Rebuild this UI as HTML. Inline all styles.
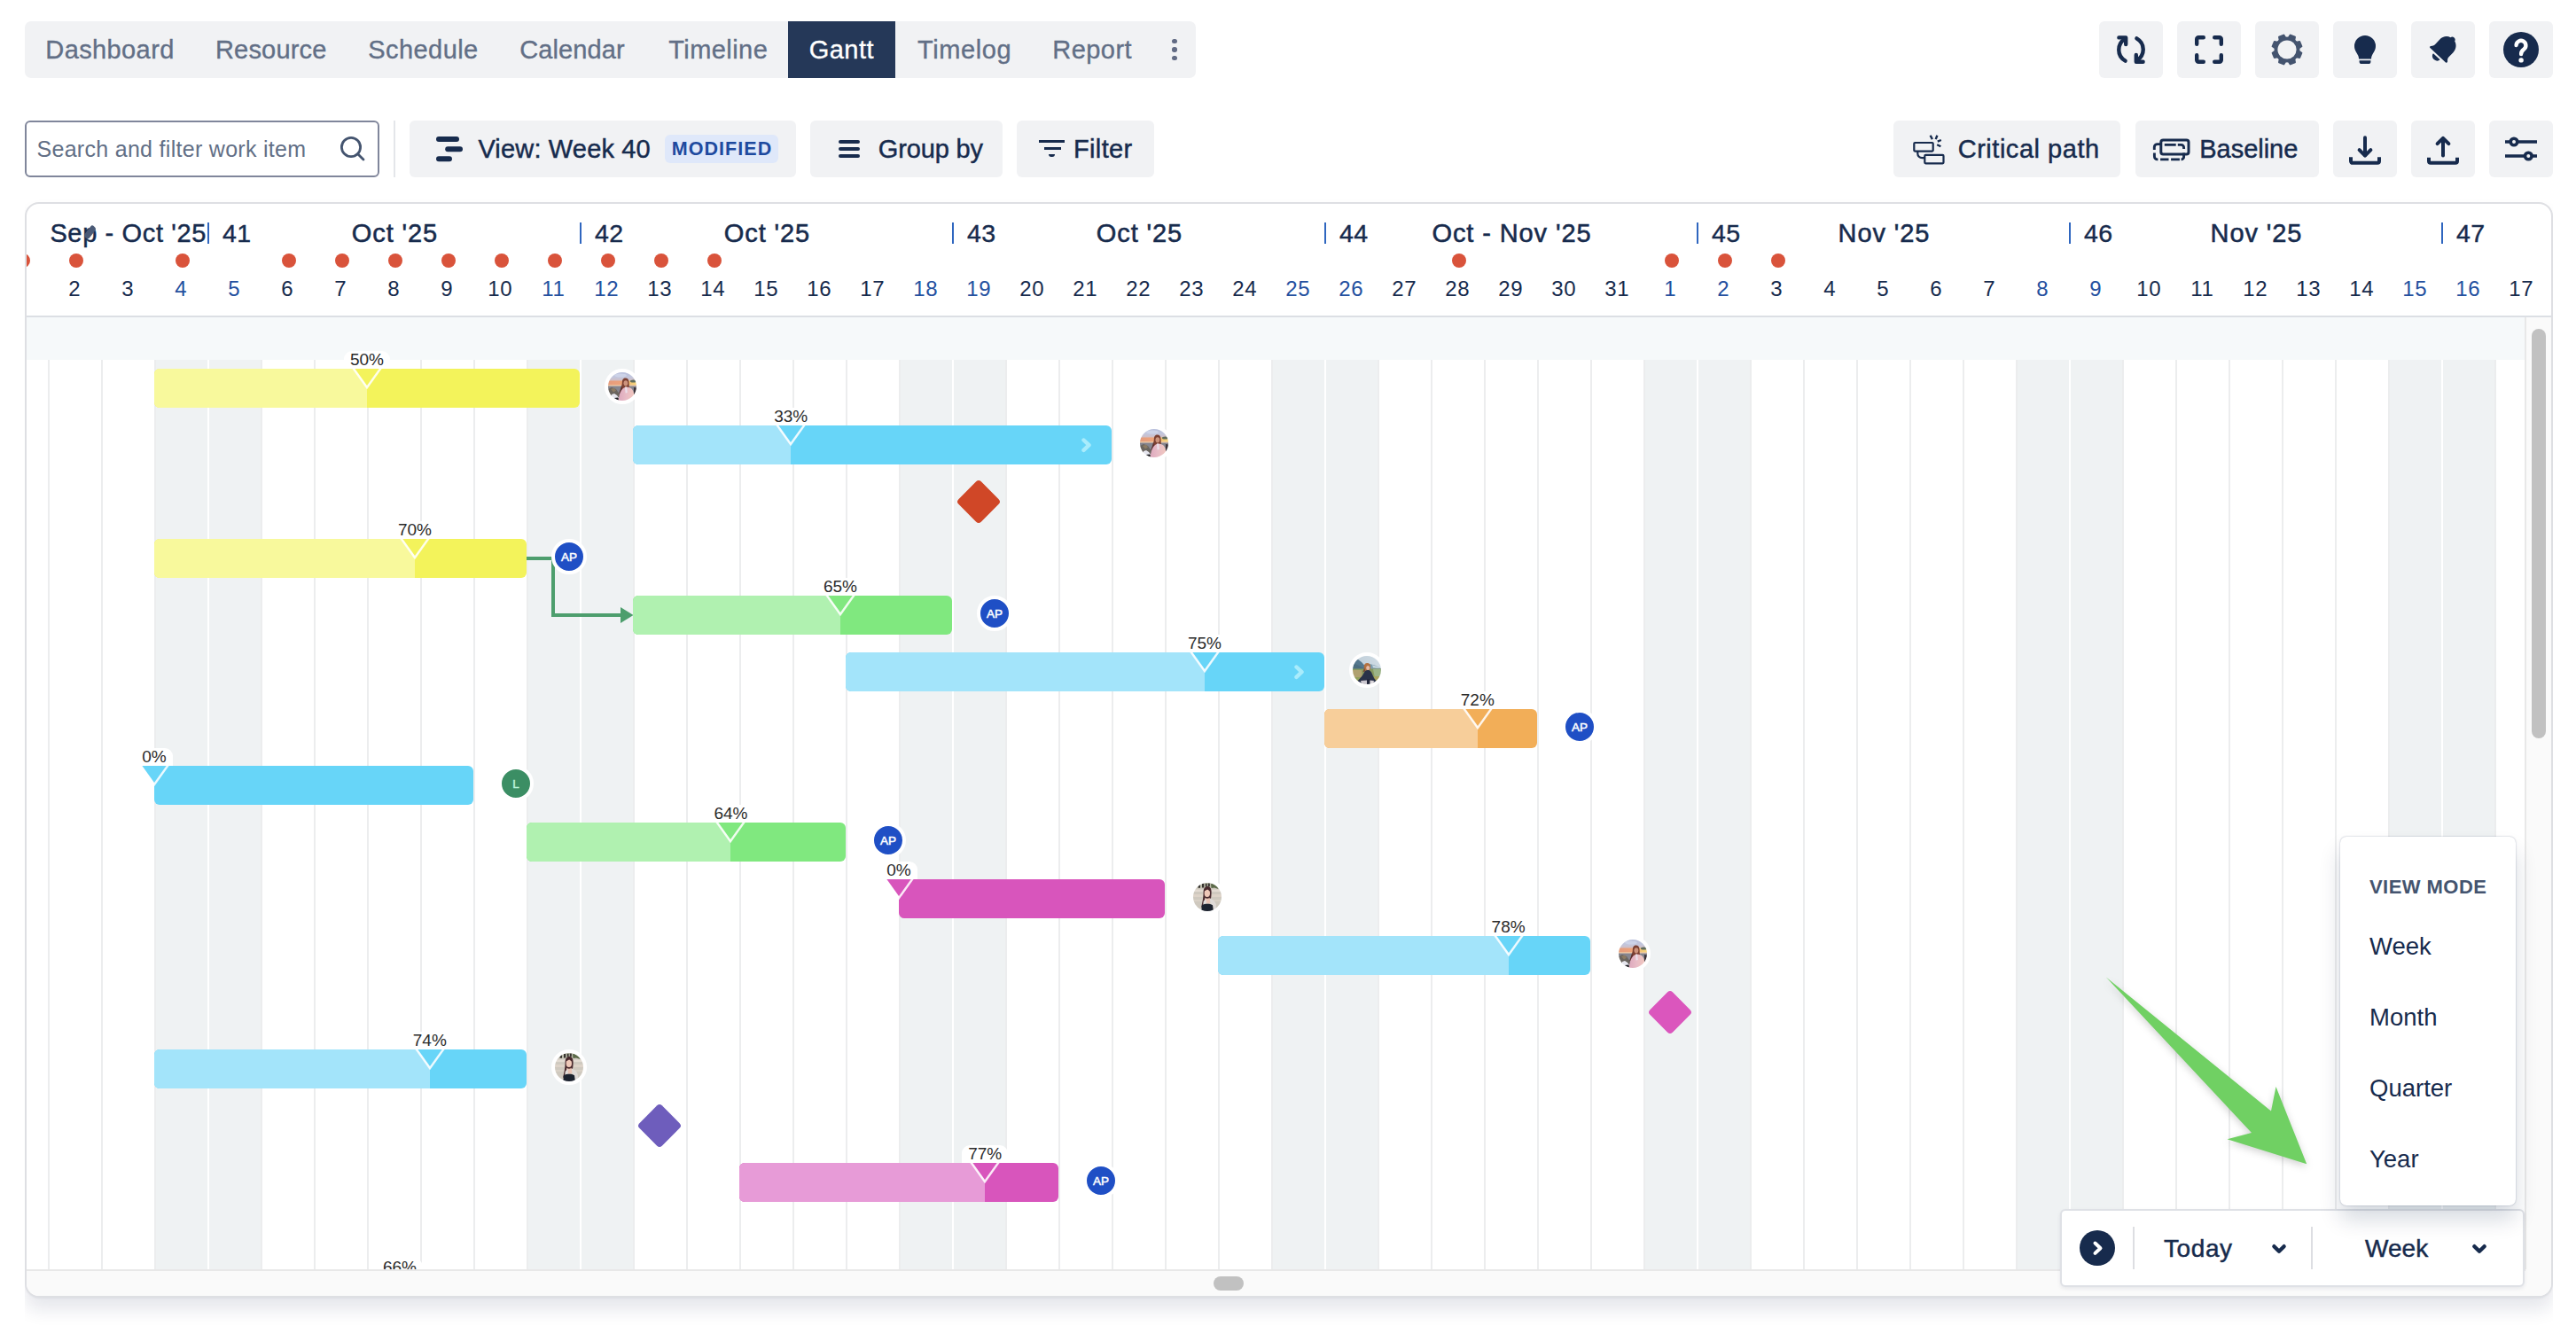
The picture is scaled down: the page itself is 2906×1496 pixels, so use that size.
<!DOCTYPE html>
<html lang="en"><head><meta charset="utf-8"><title>Gantt</title>
<style>
*{box-sizing:border-box;margin:0;padding:0}
html,body{width:2906px;height:1496px;background:#fff;overflow:hidden}
body{position:relative;font-family:"Liberation Sans",sans-serif;color:#172B4D;font-size:28px}
.a{position:absolute}
.t{position:absolute;white-space:nowrap;line-height:1}
.m{-webkit-text-stroke:0.45px currentColor}
.btn{position:absolute;background:#F1F2F4;border-radius:6px}
.tab{position:absolute;top:16px;height:32px;line-height:32px;color:#626F86;font-size:29px;white-space:nowrap;-webkit-text-stroke:0.35px currentColor}
.day{position:absolute;top:313px;width:60px;text-align:center;font-size:24px;line-height:26px;color:#172B4D;white-space:nowrap;letter-spacing:0.6px;text-indent:0.6px}
.we{color:#24509F}
.dot{position:absolute;top:286px;width:16px;height:16px;border-radius:50%;background:#D9533B}
.wk{position:absolute;top:251px;height:24px;width:2px;background:#2F66BF}
.wkn{position:absolute;top:247px;font-size:28.500px;line-height:32px;white-space:nowrap;letter-spacing:0.3px;-webkit-text-stroke:0.4px currentColor}
.mon{position:absolute;top:247px;width:420px;text-align:center;font-size:29px;line-height:32px;white-space:nowrap;letter-spacing:0.9px;text-indent:0.9px;-webkit-text-stroke:0.55px currentColor}
.gl{position:absolute;top:406px;width:2px;height:1026px;background:#ECEDEE}
.glw{background:#fff}
.wkd{position:absolute;top:406px;width:120px;height:1026px;background:#EFF2F3}
.bar{position:absolute;height:44px;border-radius:6px;overflow:hidden}
.bar i{position:absolute;left:0;top:0;bottom:0;display:block}
.pl{position:absolute;height:20px;border-radius:9px 9px 0 0;background:#fff;font-size:19px;line-height:20px;text-align:center;color:#2b2b2b;overflow:hidden;white-space:nowrap}
.av{position:absolute;width:40px;height:40px;border-radius:50%;border:4px solid #fff;background:#fff;overflow:hidden}
.avt{position:absolute;width:40px;height:40px;border-radius:50%;border:4px solid #fff;color:#fff;font-size:13.5px;line-height:33px;text-align:center;-webkit-text-stroke:0.5px #fff}
.ms{position:absolute;width:36px;height:36px;border-radius:4px;transform:rotate(45deg)}
.mi{position:absolute;left:33px;font-size:27.5px;line-height:32px;white-space:nowrap}
</style></head>
<body>
<div class="a" style="left:28px;top:24px;width:1321px;height:64px;background:#F1F2F4;border-radius:7px;overflow:hidden">
<div class="a" style="left:861px;top:0;width:121px;height:64px;background:#253858"></div>
<div class="tab" id="tab-Dashboard" style="left:23.30px;letter-spacing:0.395px;">Dashboard</div>
<div class="tab" id="tab-Resource" style="left:215.00px;letter-spacing:0.174px;">Resource</div>
<div class="tab" id="tab-Schedule" style="left:387.30px;letter-spacing:0.429px;">Schedule</div>
<div class="tab" id="tab-Calendar" style="left:558.20px;letter-spacing:0.125px;">Calendar</div>
<div class="tab" id="tab-Timeline" style="left:726.20px;letter-spacing:0.446px;">Timeline</div>
<div class="tab" id="tab-Gantt" style="left:884.80px;letter-spacing:0.432px;color:#fff;">Gantt</div>
<div class="tab" id="tab-Timelog" style="left:1007.00px;letter-spacing:0.577px;">Timelog</div>
<div class="tab" id="tab-Report" style="left:1159.30px;letter-spacing:0.443px;">Report</div>
<div class="a" style="left:1294.3px;top:19.9px;width:5.4px;height:5.4px;border-radius:50%;background:#626B84"></div>
<div class="a" style="left:1294.3px;top:29.3px;width:5.4px;height:5.4px;border-radius:50%;background:#626B84"></div>
<div class="a" style="left:1294.3px;top:38.7px;width:5.4px;height:5.4px;border-radius:50%;background:#626B84"></div>
</div>
<div class="btn" style="left:2368px;top:24px;width:72px;height:64px"></div>
<div class="btn" style="left:2456px;top:24px;width:72px;height:64px"></div>
<div class="btn" style="left:2544px;top:24px;width:72px;height:64px"></div>
<div class="btn" style="left:2632px;top:24px;width:72px;height:64px"></div>
<div class="btn" style="left:2720px;top:24px;width:72px;height:64px"></div>
<div class="btn" style="left:2808px;top:24px;width:72px;height:64px"></div>
<svg class="a" style="left:2388px;top:40px" width="32" height="32" viewBox="0 0 32 32" fill="none" stroke="#172B4D" stroke-width="4.4" stroke-linecap="round" stroke-linejoin="round">
<path d="M2.4 2.4H10.2V10"/><path d="M9.6 3.6C-0.2 9.5-0.2 23 9.6 28.6"/>
<path d="M29.6 29.8H21.8V22"/><path d="M22.4 28.4C32.2 22.5 32.2 9 22.4 3.4"/>
</svg>
<svg class="a" style="left:2476px;top:40px" width="32" height="32" viewBox="0 0 32 32" fill="none" stroke="#172B4D" stroke-width="4.4" stroke-linecap="round" stroke-linejoin="round">
<path d="M2.2 9.8V4.2a2 2 0 0 1 2-2H9.8"/><path d="M22.200 2.200h5.600a2 2 0 0 1 2 2V9.800"/>
<path d="M29.800 22.200v5.600a2 2 0 0 1-2 2H22.200"/><path d="M9.800 29.800H4.200a2 2 0 0 1-2-2V22.200"/>
</svg>
<svg class="a" style="left:2560px;top:36px" width="40" height="40" viewBox="0 0 40 40">
<path d="M21.64 6.70 L23.71 3.61 L28.96 5.79 L28.24 9.44 L30.56 11.76 L34.21 11.04 L36.39 16.29 L33.30 18.36 L33.30 21.64 L36.39 23.71 L34.21 28.96 L30.56 28.24 L28.24 30.56 L28.96 34.21 L23.71 36.39 L21.64 33.30 L18.36 33.30 L16.29 36.39 L11.04 34.21 L11.76 30.56 L9.44 28.24 L5.79 28.96 L3.61 23.71 L6.70 21.64 L6.70 18.36 L3.61 16.29 L5.79 11.04 L9.44 11.76 L11.76 9.44 L11.04 5.79 L16.29 3.61 L18.36 6.70Z" fill="#44546F" stroke="#44546F" stroke-width="2" stroke-linejoin="round"/>
<circle cx="20" cy="20" r="14.200" fill="#44546F"/><circle cx="20" cy="20" r="10.600" fill="#F1F2F4"/>
</svg>
<svg class="a" style="left:2648px;top:36px" width="40" height="40" viewBox="0 0 40 40" fill="#172B4D">
<path d="M20 4a12 12 0 0 0-12 12c0 4.6 2.6 7.4 4 10.2c.7 1.4 1 2.6 1 4.2h14c0-1.600 .3-2.800 1-4.200c1.400-2.800 4-5.600 4-10.200a12 12 0 0 0-12-12z"/>
<path d="M13.600 32.300h12.800v1.200a2.600 2.600 0 0 1-2.600 2.600h-7.600a2.600 2.600 0 0 1-2.600-2.600z"/>
</svg>
<svg class="a" style="left:2736px;top:36px" width="40" height="40" viewBox="0 0 40 40" fill="#172B4D">
<g transform="rotate(43 20 20)">
<path d="M20 1.500c1.700 0 3 1.100 3.200 2.600c4.600 1.400 7.300 5.400 7.300 10.400v7.500c0 1.800 .9 3 2.300 4.300c.9 .8 .4 2.200-.8 2.200H8c-1.200 0-1.700-1.400-.8-2.200c1.400-1.300 2.300-2.500 2.300-4.300v-7.500c0-5 2.700-9 7.300-10.400c.2-1.500 1.500-2.600 3.200-2.600z"/>
<path d="M14.800 30.600h10.400a5.200 4.600 0 0 1-10.400 0z"/>
</g></svg>
<svg class="a" style="left:2822px;top:34px" width="44" height="44" viewBox="0 0 44 44">
<circle cx="22" cy="22" r="20" fill="#172B4D"/>
<path d="M16.600 17a5.400 5.400 0 1 1 8.600 4.600c-1.900 1.300-3.100 2.400-3.100 5.400" fill="none" stroke="#fff" stroke-width="4.400" stroke-linecap="round"/>
<circle cx="22.100" cy="33.900" r="2.700" fill="#fff"/>
</svg>
<div class="a" style="left:28px;top:136px;width:400px;height:64px;border:2px solid #80869B;border-radius:6px;background:#fff"></div>
<div class="t" id="t-search" style="left:41.5px;top:152px;font-size:25px;line-height:32px;color:#626F86;letter-spacing:0.295px">Search and filter work item</div>
<svg class="a" style="left:380px;top:150px" width="36" height="36" viewBox="0 0 36 36" fill="none" stroke="#44546F" stroke-width="2.800" stroke-linecap="round">
<circle cx="16" cy="16" r="10.600"/><path d="M23.700 23.700L30 30"/></svg>
<div class="a" style="left:444px;top:136px;width:2px;height:64px;background:#E4E6EA"></div>
<div class="btn" style="left:462px;top:136px;width:436px;height:64px"></div>
<svg class="a" style="left:490px;top:152px" width="34" height="32" viewBox="0 0 34 32" fill="#172B4D">
<rect x="2" y="2" width="26" height="6" rx="3"/><rect x="12.200" y="13.200" width="19.800" height="6" rx="3"/><rect x="2" y="24.200" width="18" height="6" rx="3"/></svg>
<div class="t m" id="t-view" style="left:539.4px;top:152px;font-size:29px;line-height:32px;letter-spacing:0.164px">View: Week 40</div>
<div class="a" style="left:750px;top:152px;width:128px;height:32px;border-radius:6px;background:#DFE8FA"></div>
<div class="t" id="t-mod" style="left:750px;top:152px;width:128px;text-align:center;font-size:21.500px;line-height:32px;font-weight:bold;color:#1E4A9F;letter-spacing:1.050px;text-indent:1.050px">MODIFIED</div>
<div class="btn" style="left:914px;top:136px;width:217px;height:64px"></div>
<div class="a" style="left:946px;top:158px;width:24px;height:4px;border-radius:2px;background:#172B4D"></div>
<div class="a" style="left:946px;top:166px;width:24px;height:4px;border-radius:2px;background:#172B4D"></div>
<div class="a" style="left:946px;top:174px;width:24px;height:4px;border-radius:2px;background:#172B4D"></div>
<div class="t m" id="t-group" style="left:990.8px;top:152px;font-size:29px;line-height:32px;letter-spacing:-0.155px">Group by</div>
<div class="btn" style="left:1147px;top:136px;width:155px;height:64px"></div>
<div class="a" style="left:1172px;top:158px;width:29px;height:3px;background:#172B4D"></div>
<div class="a" style="left:1178px;top:166px;width:19px;height:3px;background:#172B4D"></div>
<div class="a" style="left:1183px;top:174px;width:7px;height:3px;border-radius:0 0 3px 3px;background:#172B4D"></div>
<div class="t m" id="t-filter" style="left:1211.0px;top:152px;font-size:29px;line-height:32px;letter-spacing:0.343px">Filter</div>
<div class="btn" style="left:2136px;top:136px;width:256px;height:64px"></div>
<svg class="a" style="left:2154px;top:148px" width="44" height="42" viewBox="0 0 44 42" fill="none" stroke="#172B4D" stroke-width="2.200" stroke-linecap="round" stroke-linejoin="round">
<rect x="5.300" y="13" width="21.400" height="9.600" rx="1"/><rect x="17.300" y="26.900" width="21.200" height="9.400" rx="1"/>
<path d="M9.300 23.700v1.500a5 5 0 0 0 5 5h2"/>
<path d="M23.600 4.700L25.900 9.100M31.400 4.700L29.700 9.100M35.800 10L31.800 11.600M31.200 15.200L35.400 17.300" stroke-width="2.400" stroke-linecap="butt"/></svg>
<div class="t m" id="t-crit" style="left:2208.7px;top:152px;font-size:29px;line-height:32px;letter-spacing:0.526px">Critical path</div>
<div class="btn" style="left:2409px;top:136px;width:207px;height:64px"></div>
<svg class="a" style="left:2426px;top:152px" width="48" height="34" viewBox="0 0 48 34" fill="none" stroke="#172B4D" stroke-linecap="round" stroke-linejoin="round">
<path d="M15.800 11.400H28.700M30.800 11.400H34.600a3 3 0 0 1 3 3V16.100M11.400 10.600H7.800a3.500 3.500 0 0 0-3.500 3.500V17M4.400 20.400V24.400a3.500 3.500 0 0 0 3.500 3.500H8.400M11.100 27.900H20.500M23.100 27.900H32.900M34.600 27.900a3 3 0 0 0 3-3V20.400" stroke-width="2.900" stroke-linecap="butt"/>
<rect x="11.800" y="6.100" width="31.200" height="15.800" rx="2.500" stroke-width="3"/>
</svg>
<div class="t m" id="t-base" style="left:2481.3px;top:152px;font-size:29px;line-height:32px;letter-spacing:-0.03px">Baseline</div>
<div class="btn" style="left:2632px;top:136px;width:72px;height:64px"></div>
<div class="btn" style="left:2720px;top:136px;width:72px;height:64px"></div>
<div class="btn" style="left:2808px;top:136px;width:72px;height:64px"></div>
<svg class="a" style="left:2648px;top:150px" width="40" height="40" viewBox="0 0 40 40" fill="none" stroke="#172B4D" stroke-width="4" stroke-linecap="round" stroke-linejoin="round">
<path d="M4 27.200v4.600a2 2 0 0 0 2 2h28a2 2 0 0 0 2-2v-4.600" stroke-linecap="butt"/><path d="M20 5.200V25"/><path d="M13.600 19.200L20 25.600L26.400 19.200"/></svg>
<svg class="a" style="left:2736px;top:150px" width="40" height="40" viewBox="0 0 40 40" fill="none" stroke="#172B4D" stroke-width="4" stroke-linecap="round" stroke-linejoin="round">
<path d="M4 27.800v4a2 2 0 0 0 2 2h28a2 2 0 0 0 2-2v-4" stroke-linecap="butt"/><path d="M20 25.400V6.500"/><path d="M13.600 12.200L20 5.800L26.400 12.200"/></svg>
<svg class="a" style="left:2824px;top:148px" width="40" height="40" viewBox="0 0 40 40" fill="none" stroke="#172B4D" stroke-width="3.600">
<path d="M2 12h36M2 28h36"/><circle cx="12" cy="12" r="3.800" fill="#F1F2F4"/><circle cx="28.300" cy="28" r="3.800" fill="#F1F2F4"/></svg>
<div class="a" style="left:28px;top:200px;width:2852px;height:1296px;overflow:hidden">
<div class="a" style="left:0;top:28px;width:2852px;height:1236px;border:2px solid #DEDFE3;border-radius:16px;background:#fff;box-shadow:0 14px 20px rgba(15,30,75,0.105),0 1px 2px rgba(9,30,66,0.05)"></div>
</div>
<div class="a" style="left:30px;top:230px;width:2848px;height:1232px;border-radius:14px;overflow:hidden">
<div class="a" id="gc" style="left:-30px;top:-230px;width:2906px;height:1496px">
<div class="a" style="left:30px;top:356px;width:2848px;height:2px;background:#DCDFE4"></div>
<div class="a" style="left:30px;top:358px;width:2818px;height:48px;background:#F6F9FA"></div>
<div class="wkd" style="left:174px"></div>
<div class="wkd" style="left:594px"></div>
<div class="wkd" style="left:1014px"></div>
<div class="wkd" style="left:1434px"></div>
<div class="wkd" style="left:1854px"></div>
<div class="wkd" style="left:2274px"></div>
<div class="wkd" style="left:2694px"></div>
<div class="gl" style="left:54px"></div>
<div class="gl" style="left:114px"></div>
<div class="gl" style="left:174px"></div>
<div class="gl glw" style="left:234px"></div>
<div class="gl" style="left:294px"></div>
<div class="gl" style="left:354px"></div>
<div class="gl" style="left:414px"></div>
<div class="gl" style="left:474px"></div>
<div class="gl" style="left:534px"></div>
<div class="gl" style="left:594px"></div>
<div class="gl glw" style="left:654px"></div>
<div class="gl" style="left:714px"></div>
<div class="gl" style="left:774px"></div>
<div class="gl" style="left:834px"></div>
<div class="gl" style="left:894px"></div>
<div class="gl" style="left:954px"></div>
<div class="gl" style="left:1014px"></div>
<div class="gl glw" style="left:1074px"></div>
<div class="gl" style="left:1134px"></div>
<div class="gl" style="left:1194px"></div>
<div class="gl" style="left:1254px"></div>
<div class="gl" style="left:1314px"></div>
<div class="gl" style="left:1374px"></div>
<div class="gl" style="left:1434px"></div>
<div class="gl glw" style="left:1494px"></div>
<div class="gl" style="left:1554px"></div>
<div class="gl" style="left:1614px"></div>
<div class="gl" style="left:1674px"></div>
<div class="gl" style="left:1734px"></div>
<div class="gl" style="left:1794px"></div>
<div class="gl" style="left:1854px"></div>
<div class="gl glw" style="left:1914px"></div>
<div class="gl" style="left:1974px"></div>
<div class="gl" style="left:2034px"></div>
<div class="gl" style="left:2094px"></div>
<div class="gl" style="left:2154px"></div>
<div class="gl" style="left:2214px"></div>
<div class="gl" style="left:2274px"></div>
<div class="gl glw" style="left:2334px"></div>
<div class="gl" style="left:2394px"></div>
<div class="gl" style="left:2454px"></div>
<div class="gl" style="left:2514px"></div>
<div class="gl" style="left:2574px"></div>
<div class="gl" style="left:2634px"></div>
<div class="gl" style="left:2694px"></div>
<div class="gl glw" style="left:2754px"></div>
<div class="gl" style="left:2814px"></div>
<div class="t m" id="t-sep" style="left:56.4px;top:247px;font-size:29px;line-height:32px;letter-spacing:0.641px">Sep - Oct '25</div>
<div class="a" style="left:97.500px;top:254px;width:7px;height:16px;border-radius:2px 4px 4px 4px;background:#4A5A76;transform:rotate(38deg)"></div>
<div class="wk" style="left:234px"></div>
<div class="wkn" style="left:251px">41</div>
<div class="mon" style="left:235px">Oct '25</div>
<div class="wk" style="left:654px"></div>
<div class="wkn" style="left:671px">42</div>
<div class="mon" style="left:655px">Oct '25</div>
<div class="wk" style="left:1074px"></div>
<div class="wkn" style="left:1091px">43</div>
<div class="mon" style="left:1075px">Oct '25</div>
<div class="wk" style="left:1494px"></div>
<div class="wkn" style="left:1511px">44</div>
<div class="mon" style="left:1495px">Oct - Nov '25</div>
<div class="wk" style="left:1914px"></div>
<div class="wkn" style="left:1931px">45</div>
<div class="mon" style="left:1915px">Nov '25</div>
<div class="wk" style="left:2334px"></div>
<div class="wkn" style="left:2351px">46</div>
<div class="mon" style="left:2335px">Nov '25</div>
<div class="wk" style="left:2754px"></div>
<div class="wkn" style="left:2771px">47</div>
<div class="dot" style="left:18px"></div>
<div class="dot" style="left:78px"></div>
<div class="dot" style="left:198px"></div>
<div class="dot" style="left:318px"></div>
<div class="dot" style="left:378px"></div>
<div class="dot" style="left:438px"></div>
<div class="dot" style="left:498px"></div>
<div class="dot" style="left:558px"></div>
<div class="dot" style="left:618px"></div>
<div class="dot" style="left:678px"></div>
<div class="dot" style="left:738px"></div>
<div class="dot" style="left:798px"></div>
<div class="dot" style="left:1638px"></div>
<div class="dot" style="left:1878px"></div>
<div class="dot" style="left:1938px"></div>
<div class="dot" style="left:1998px"></div>
<div class="day" style="left:54px">2</div>
<div class="day" style="left:114px">3</div>
<div class="day we" style="left:174px">4</div>
<div class="day we" style="left:234px">5</div>
<div class="day" style="left:294px">6</div>
<div class="day" style="left:354px">7</div>
<div class="day" style="left:414px">8</div>
<div class="day" style="left:474px">9</div>
<div class="day" style="left:534px">10</div>
<div class="day we" style="left:594px">11</div>
<div class="day we" style="left:654px">12</div>
<div class="day" style="left:714px">13</div>
<div class="day" style="left:774px">14</div>
<div class="day" style="left:834px">15</div>
<div class="day" style="left:894px">16</div>
<div class="day" style="left:954px">17</div>
<div class="day we" style="left:1014px">18</div>
<div class="day we" style="left:1074px">19</div>
<div class="day" style="left:1134px">20</div>
<div class="day" style="left:1194px">21</div>
<div class="day" style="left:1254px">22</div>
<div class="day" style="left:1314px">23</div>
<div class="day" style="left:1374px">24</div>
<div class="day we" style="left:1434px">25</div>
<div class="day we" style="left:1494px">26</div>
<div class="day" style="left:1554px">27</div>
<div class="day" style="left:1614px">28</div>
<div class="day" style="left:1674px">29</div>
<div class="day" style="left:1734px">30</div>
<div class="day" style="left:1794px">31</div>
<div class="day we" style="left:1854px">1</div>
<div class="day we" style="left:1914px">2</div>
<div class="day" style="left:1974px">3</div>
<div class="day" style="left:2034px">4</div>
<div class="day" style="left:2094px">5</div>
<div class="day" style="left:2154px">6</div>
<div class="day" style="left:2214px">7</div>
<div class="day we" style="left:2274px">8</div>
<div class="day we" style="left:2334px">9</div>
<div class="day" style="left:2394px">10</div>
<div class="day" style="left:2454px">11</div>
<div class="day" style="left:2514px">12</div>
<div class="day" style="left:2574px">13</div>
<div class="day" style="left:2634px">14</div>
<div class="day we" style="left:2694px">15</div>
<div class="day we" style="left:2754px">16</div>
<div class="day" style="left:2814px">17</div>
<svg width="0" height="0" style="position:absolute"><defs>
<filter id="bl" x="-20%" y="-20%" width="140%" height="140%"><feGaussianBlur stdDeviation="0.500"/></filter>
<linearGradient id="g1a" x1="0" y1="0" x2="1" y2="0"><stop offset="0" stop-color="#E39A7E"/><stop offset="0.45" stop-color="#EDA27A"/><stop offset="0.8" stop-color="#F4CE78"/><stop offset="1" stop-color="#F6DC84"/></linearGradient>
<linearGradient id="g1b" x1="0" y1="0" x2="0" y2="1"><stop offset="0" stop-color="#AEB9DC"/><stop offset="0.6" stop-color="#C3C6DC"/><stop offset="1" stop-color="#D9B9B4"/></linearGradient>
<linearGradient id="g1c" x1="0" y1="0" x2="1" y2="0"><stop offset="0" stop-color="#DDA9BE"/><stop offset="0.5" stop-color="#E8BCC6"/><stop offset="1" stop-color="#F1C7BE"/></linearGradient>
<symbol id="ph1" viewBox="0 0 32 32"><g filter="url(#bl)">
<rect x="-4" y="-4" width="40" height="16" fill="url(#g1b)"/>
<ellipse cx="14" cy="3.500" rx="7" ry="2" fill="#CDD3E8"/>
<rect x="-4" y="9.500" width="40" height="5.500" fill="url(#g1a)"/>
<rect x="-4" y="14.200" width="40" height="1.600" fill="#EFC9A4"/>
<rect x="-4" y="15.500" width="40" height="22" fill="#85858F"/>
<path d="M-2 20l6-3 5 2 4 6v9H-2z" fill="#6B655F"/>
<path d="M3 19l4-1.500 2 3-3 2z" fill="#8B7A62"/>
<path d="M4 25l3-1 3 2 2 3-4 1-4-2z" fill="#E6E6EE"/>
<path d="M7 29l4-.5 1 3H7z" fill="#1E1C22"/>
<ellipse cx="28.500" cy="10" rx="3.600" ry="1.600" fill="#5E6C5C"/>
<path d="M29 17l5 1v9l-5-2z" fill="#3A3038"/>
<path d="M15.800 12c0-4 1.600-5.600 3.800-5.600c2.400 0 4 1.800 4 5.400c0 3 .2 5 .6 7l-8 1c-1 2-2.200 4-3.200 5c.2-4 2.800-8 2.800-12.800z" fill="#7B4032"/>
<path d="M15.200 14c-.6 4-2.200 7.600-3.200 10.600l4.600-2.600z" fill="#5C2F2F"/>
<ellipse cx="19.900" cy="12.300" rx="2.400" ry="3.100" fill="#CD937C"/>
<path d="M11.500 34c.5-9 3-15.500 7.500-17c5.500-.8 9.500 1.600 10 7.400l.5 9.600z" fill="url(#g1c)"/>
<path d="M19 16.600l2.200-.2.600 6.600-2.200.4z" fill="#EAE0EA"/>
</g></symbol>
<linearGradient id="g2a" x1="0" y1="0" x2="1" y2="0"><stop offset="0" stop-color="#BCCBD6"/><stop offset="1" stop-color="#D2DEE6"/></linearGradient>
<symbol id="ph2" viewBox="0 0 32 32"><g filter="url(#bl)">
<rect x="-4" y="-4" width="40" height="22" fill="url(#g2a)"/>
<path d="M-3 8.500l5-4 4-.5 4 3 4 4.500 5 2.500H-3z" fill="#56788E"/>
<path d="M-3 11l6-2 6 3 5 3H-3z" fill="#4E6E80"/>
<path d="M14 11.500l5-2.500 6 1.500 9 5v3H14z" fill="#7E9DAF"/>
<path d="M22 10.200l5 1.500 4 2.500-8-1z" fill="#C8D8E0"/>
<rect x="-4" y="14.500" width="40" height="22" fill="#87995F"/>
<path d="M-3 16h13l1 9-14 1z" fill="#B0A16F"/>
<path d="M-2 24h12v10H-2z" fill="#93A05C"/>
<path d="M23 15h11v9l-9 1z" fill="#9CB488"/>
<path d="M24 23h10v10h-8z" fill="#A9A45E"/>
<ellipse cx="16.400" cy="12.600" rx="3.700" ry="4.500" fill="#B4713F"/>
<path d="M13 13c-.5 2.500-1 4-1.800 5.200l3.300-.8z" fill="#7A4A34"/>
<ellipse cx="17.200" cy="13.500" rx="2" ry="2.600" fill="#E6BBA8"/>
<path d="M4.500 29.500c2.500-3 6-6 8-10c1-2.600 2.600-3.600 4.600-3.600c2.600 0 3.800 1.600 4.800 4.400c1.200 3.600 3.200 6.600 5.200 8.400l-2.200 4.600H8z" fill="#2B3148"/>
<path d="M9 28l7-.5.500 4.500H10z" fill="#CBC7CF"/>
<path d="M19 27.500l5 .5-1 4h-4z" fill="#D8D4D8"/>
<path d="M16 26.500h3.400V34H16z" fill="#22273A"/>
</g></symbol>
<symbol id="ph3" viewBox="0 0 32 32"><g filter="url(#bl)">
<rect x="-4" y="-4" width="40" height="40" fill="#CFC9BF"/>
<rect x="-4" y="-2" width="40" height="7.500" fill="#BBBBAA"/>
<path d="M5.600 1.500h2.400v4.200H5.600zM10 .8h2.200v4.600H10zM13.800 .8h1.800v3.800h-1.800zM16.800 .6h2v3.600h-2z" fill="#34332D"/>
<path d="M20 1.500c3-1.500 7 1.500 8.500 5.500l-4.500-1.500-3.500.5z" fill="#5B6A4A"/>
<rect x="-4" y="7.500" width="40" height="2.600" fill="#E3DBD2"/>
<rect x="-4" y="13" width="40" height="3" fill="#DDD3C8"/>
<rect x="-4" y="19" width="40" height="2" fill="#D9D1C6"/>
<path d="M11.600 10.500c0-4.200 1.900-6.500 4.600-6.500c2.800 0 4.400 2.400 4.400 6.400c0 3-.2 5.200-.6 7.200l-4.400 1.400l-3.200 8.200-3.400.6c1.400-5.400 2.600-11.200 2.600-17.300z" fill="#4A2B2F"/>
<ellipse cx="15.800" cy="11.700" rx="3.200" ry="4.200" fill="#EFC8B8"/>
<path d="M12.200 9c.8-2.600 2.600-3.600 4.400-3.400c2 .2 3.200 1.600 3.600 4.200c-1.800-.4-3.200-1.600-4-3c-1 1.400-2.400 2.200-4 2.200z" fill="#4A2B2F"/>
<path d="M13.400 16.800c1.600 1.200 3.600 1.200 5.200 0l.8 6.400h-7z" fill="#EAC4B4"/>
<path d="M11.600 21c1-1.600 2-2.600 3-3l.4 6.500-3.800 1z" fill="#E2DDDA"/>
<path d="M19 17.800c3.400.8 6 3.200 6.800 6.800l.8 8-5.600.4-1.400-9z" fill="#DFDAD7"/>
<path d="M10 25.200c3.600-1.800 8.400-1.800 12 0l1.200 9H9z" fill="#1D242E"/>
</g></symbol>
</defs></svg>
<div class="bar" style="left:174px;top:416px;width:480px;background:#F3F35B"><i style="width:240.0px;background:#F8F99C"></i></div>
<div class="pl" style="left:388.0px;top:396px;width:52px">50%</div>
<svg class="a" style="left:392.0px;top:412px" width="44" height="32" viewBox="0 0 44 32"><path d="M4.500 2.800H39.500L22 27.200Z" fill="#fff" fill-opacity="0.88"/><path d="M8.400 4H35.600L22 23Z" fill="#F3F35B"/></svg>
<div class="av" style="left:682px;top:416px"><svg width="32" height="32" viewBox="0 0 32 32" style="display:block"><use href="#ph1"/></svg></div>
<div class="bar" style="left:714px;top:480px;width:540px;background:#67D5F8"><i style="width:178.2px;background:#A3E4FA"></i></div>
<svg class="a" style="left:1216px;top:492px" width="20" height="20" viewBox="0 0 20 20" fill="none" stroke="#A9ECFC" stroke-width="4.400" stroke-linecap="round" stroke-linejoin="round"><path d="M6.500 4.500L12.500 10.200L6.500 15.900"/></svg>
<div class="pl" style="left:866.2px;top:460px;width:52px">33%</div>
<svg class="a" style="left:870.2px;top:476px" width="44" height="32" viewBox="0 0 44 32"><path d="M4.500 2.800H39.500L22 27.200Z" fill="#fff" fill-opacity="0.88"/><path d="M8.400 4H35.600L22 23Z" fill="#67D5F8"/></svg>
<div class="av" style="left:1282px;top:480px"><svg width="32" height="32" viewBox="0 0 32 32" style="display:block"><use href="#ph1"/></svg></div>
<div class="ms" style="left:1086px;top:548px;background:#D04727"></div>
<svg class="a" style="left:590px;top:620px" width="130" height="90" viewBox="590 620 130 90"><path d="M594 630H624V694H702" fill="none" stroke="#4D9E6D" stroke-width="4"/><path d="M700 685L714.500 694L700 703Z" fill="#4D9E6D"/></svg>
<div class="bar" style="left:174px;top:608px;width:420px;background:#F3F35B"><i style="width:294.0px;background:#F8F99C"></i></div>
<div class="pl" style="left:442.0px;top:588px;width:52px">70%</div>
<svg class="a" style="left:446.0px;top:604px" width="44" height="32" viewBox="0 0 44 32"><path d="M4.500 2.800H39.500L22 27.200Z" fill="#fff" fill-opacity="0.88"/><path d="M8.400 4H35.600L22 23Z" fill="#F3F35B"/></svg>
<div class="avt" style="left:622px;top:608px;background:#1F4FC5;color:#fff;-webkit-text-stroke-color:#fff">AP</div>
<div class="bar" style="left:714px;top:672px;width:360px;background:#80E87F"><i style="width:234.0px;background:#B0F1B0"></i></div>
<div class="pl" style="left:922.0px;top:652px;width:52px">65%</div>
<svg class="a" style="left:926.0px;top:668px" width="44" height="32" viewBox="0 0 44 32"><path d="M4.500 2.800H39.500L22 27.200Z" fill="#fff" fill-opacity="0.88"/><path d="M8.400 4H35.600L22 23Z" fill="#80E87F"/></svg>
<div class="avt" style="left:1102px;top:672px;background:#1F4FC5;color:#fff;-webkit-text-stroke-color:#fff">AP</div>
<div class="bar" style="left:954px;top:736px;width:540px;background:#67D5F8"><i style="width:405.0px;background:#A3E4FA"></i></div>
<svg class="a" style="left:1456px;top:748px" width="20" height="20" viewBox="0 0 20 20" fill="none" stroke="#A9ECFC" stroke-width="4.400" stroke-linecap="round" stroke-linejoin="round"><path d="M6.500 4.500L12.500 10.200L6.500 15.900"/></svg>
<div class="pl" style="left:1333.0px;top:716px;width:52px">75%</div>
<svg class="a" style="left:1337.0px;top:732px" width="44" height="32" viewBox="0 0 44 32"><path d="M4.500 2.800H39.500L22 27.200Z" fill="#fff" fill-opacity="0.88"/><path d="M8.400 4H35.600L22 23Z" fill="#67D5F8"/></svg>
<div class="av" style="left:1522px;top:736px"><svg width="32" height="32" viewBox="0 0 32 32" style="display:block"><use href="#ph2"/></svg></div>
<div class="bar" style="left:1494px;top:800px;width:240px;background:#F2AE58"><i style="width:172.8px;background:#F7CE9A"></i></div>
<div class="pl" style="left:1640.8px;top:780px;width:52px">72%</div>
<svg class="a" style="left:1644.8px;top:796px" width="44" height="32" viewBox="0 0 44 32"><path d="M4.500 2.800H39.500L22 27.200Z" fill="#fff" fill-opacity="0.88"/><path d="M8.400 4H35.600L22 23Z" fill="#F2AE58"/></svg>
<div class="avt" style="left:1762px;top:800px;background:#1F4FC5;color:#fff;-webkit-text-stroke-color:#fff">AP</div>
<div class="bar" style="left:174px;top:864px;width:360px;background:#67D5F8"><i style="width:0.0px;background:#A3E4FA"></i></div>
<div class="pl" style="left:153.5px;top:844px;width:41px">0%</div>
<svg class="a" style="left:152.0px;top:860px" width="44" height="32" viewBox="0 0 44 32"><path d="M4.500 2.800H39.500L22 27.200Z" fill="#fff" fill-opacity="0.88"/><path d="M8.400 4H35.600L22 23Z" fill="#67D5F8"/></svg>
<div class="avt" style="left:562px;top:864px;background:#3B8E64;color:#BAF3DB;-webkit-text-stroke-color:#BAF3DB">L</div>
<div class="bar" style="left:594px;top:928px;width:360px;background:#80E87F"><i style="width:230.4px;background:#B0F1B0"></i></div>
<div class="pl" style="left:798.4px;top:908px;width:52px">64%</div>
<svg class="a" style="left:802.4px;top:924px" width="44" height="32" viewBox="0 0 44 32"><path d="M4.500 2.800H39.500L22 27.200Z" fill="#fff" fill-opacity="0.88"/><path d="M8.400 4H35.600L22 23Z" fill="#80E87F"/></svg>
<div class="avt" style="left:982px;top:928px;background:#1F4FC5;color:#fff;-webkit-text-stroke-color:#fff">AP</div>
<div class="bar" style="left:1014px;top:992px;width:300px;background:#D855BC"><i style="width:0.0px;background:#E79BD7"></i></div>
<div class="pl" style="left:993.5px;top:972px;width:41px">0%</div>
<svg class="a" style="left:992.0px;top:988px" width="44" height="32" viewBox="0 0 44 32"><path d="M4.500 2.800H39.500L22 27.200Z" fill="#fff" fill-opacity="0.88"/><path d="M8.400 4H35.600L22 23Z" fill="#D855BC"/></svg>
<div class="av" style="left:1342px;top:992px"><svg width="32" height="32" viewBox="0 0 32 32" style="display:block"><use href="#ph3"/></svg></div>
<div class="bar" style="left:1374px;top:1056px;width:420px;background:#67D5F8"><i style="width:327.6px;background:#A3E4FA"></i></div>
<div class="pl" style="left:1675.6px;top:1036px;width:52px">78%</div>
<svg class="a" style="left:1679.6px;top:1052px" width="44" height="32" viewBox="0 0 44 32"><path d="M4.500 2.800H39.500L22 27.200Z" fill="#fff" fill-opacity="0.88"/><path d="M8.400 4H35.600L22 23Z" fill="#67D5F8"/></svg>
<div class="av" style="left:1822px;top:1056px"><svg width="32" height="32" viewBox="0 0 32 32" style="display:block"><use href="#ph1"/></svg></div>
<div class="ms" style="left:1866px;top:1124px;background:#DB56BD"></div>
<div class="bar" style="left:174px;top:1184px;width:420px;background:#67D5F8"><i style="width:310.8px;background:#A3E4FA"></i></div>
<div class="pl" style="left:458.8px;top:1164px;width:52px">74%</div>
<svg class="a" style="left:462.8px;top:1180px" width="44" height="32" viewBox="0 0 44 32"><path d="M4.500 2.800H39.500L22 27.200Z" fill="#fff" fill-opacity="0.88"/><path d="M8.400 4H35.600L22 23Z" fill="#67D5F8"/></svg>
<div class="av" style="left:622px;top:1184px"><svg width="32" height="32" viewBox="0 0 32 32" style="display:block"><use href="#ph3"/></svg></div>
<div class="ms" style="left:726px;top:1252px;background:#6E5DBC"></div>
<div class="bar" style="left:834px;top:1312px;width:360px;background:#D855BC"><i style="width:277.2px;background:#E79BD7"></i></div>
<div class="pl" style="left:1085.2px;top:1292px;width:52px">77%</div>
<svg class="a" style="left:1089.2px;top:1308px" width="44" height="32" viewBox="0 0 44 32"><path d="M4.500 2.800H39.500L22 27.200Z" fill="#fff" fill-opacity="0.88"/><path d="M8.400 4H35.600L22 23Z" fill="#D855BC"/></svg>
<div class="avt" style="left:1222px;top:1312px;background:#1F4FC5;color:#fff;-webkit-text-stroke-color:#fff">AP</div>
<div class="pl" style="left:425px;top:1420px;width:52px">66%</div>
<div class="a" style="left:2848px;top:358px;width:30px;height:1075px;background:#FAFAFA;border-left:2px solid #E8E8E8"></div>
<div class="a" style="left:2856px;top:371px;width:16px;height:462px;border-radius:8px;background:#C1C1C1"></div>
<div class="a" style="left:30px;top:1432px;width:2848px;height:30px;background:#FAFAFA"></div>
<div class="a" style="left:30px;top:1432px;width:2819px;height:2px;background:#E8E8E8"></div>
<div class="a" style="left:1369px;top:1440px;width:34px;height:16px;border-radius:8px;background:#C1C1C1"></div>
</div></div>
<svg class="a" style="left:2340px;top:1080px;filter:drop-shadow(0 3px 4px rgba(0,0,0,0.18))" width="300" height="260" viewBox="2340 1080 300 260">
<path d="M2375.900 1102.500L2562 1253.500L2567.500 1226.100L2602.200 1313.300L2512.500 1285.300L2540 1278Z" fill="#70D063"/></svg>
<div class="a" style="left:2324px;top:1364px;width:524px;height:88px;background:#fff;border:2px solid #DFE1E6;border-radius:6px;box-shadow:0 2px 4px rgba(9,30,66,0.08)"></div>
<svg class="a" style="left:2346px;top:1388px" width="40" height="40" viewBox="0 0 40 40"><circle cx="20" cy="20" r="20" fill="#172B4D"/><path d="M17.500 14.500L23.500 20.200L17.500 25.900" fill="none" stroke="#fff" stroke-width="4" stroke-linecap="round" stroke-linejoin="round"/></svg>
<div class="a" style="left:2406px;top:1384px;width:2px;height:48px;background:#DDDEE2"></div>
<div class="t m" id="t-today" style="left:2441px;top:1393px;font-size:28px;line-height:32px;letter-spacing:0.6px">Today</div>
<svg class="a" style="left:2559px;top:1397px" width="24" height="24" viewBox="0 0 24 24" fill="none" stroke="#172B4D" stroke-width="4.400" stroke-linecap="round" stroke-linejoin="round"><path d="M6.400 9.200L12 14.700L17.600 9.200"/></svg>
<div class="a" style="left:2607px;top:1384px;width:2px;height:48px;background:#DDDEE2"></div>
<div class="t m" id="t-week" style="left:2668px;top:1393px;font-size:28px;line-height:32px;letter-spacing:0.05px">Week</div>
<svg class="a" style="left:2785px;top:1397px" width="24" height="24" viewBox="0 0 24 24" fill="none" stroke="#172B4D" stroke-width="4.400" stroke-linecap="round" stroke-linejoin="round"><path d="M6.400 9.200L12 14.700L17.600 9.200"/></svg>
<div class="a" style="left:2640px;top:944px;width:198px;height:416px;background:#fff;border-radius:7px;box-shadow:0 16px 24px rgba(9,30,66,0.16),0 0 2px rgba(9,30,66,0.34)">
<div class="t" id="t-vm" style="left:33px;top:41px;font-size:22px;line-height:32px;font-weight:bold;color:#44546F;letter-spacing:0.45px">VIEW MODE</div>
<div class="mi" id="mi-Week" style="top:108px">Week</div>
<div class="mi" id="mi-Month" style="top:188px">Month</div>
<div class="mi" id="mi-Quarter" style="top:268px">Quarter</div>
<div class="mi" id="mi-Year" style="top:348px">Year</div>
</div>
</body></html>
